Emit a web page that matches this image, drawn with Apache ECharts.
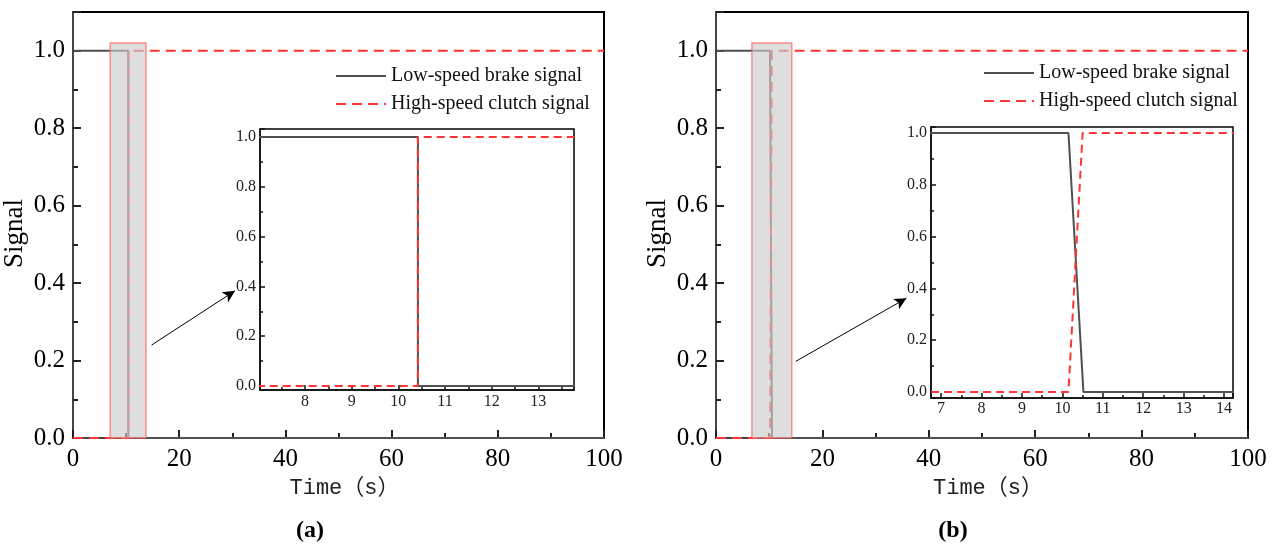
<!DOCTYPE html>
<html>
<head>
<meta charset="utf-8">
<script src="https://cdn.jsdelivr.net/npm/echarts@6/dist/echarts.min.js"></script>
<style>
html,body{margin:0;padding:0;background:#fff;}
#chart{width:1278px;height:547px;}
</style>
</head>
<body>
<div id="chart"></div>
<script>
// ---- data ----
const seriesNames = ['Low-speed brake signal', 'High-speed clutch signal'];
const timeLowA  = [0, 10.42, 10.42, 100];
const sigLowA   = [1, 1, 0, 0];
const timeHighA = [0, 10.42, 10.42, 100];
const sigHighA  = [0, 0, 1, 1];
const timeLowB  = [0, 10.15, 10.52, 100];
const sigLowB   = [1, 1, 0, 0];
const timeHighB = [0, 10.15, 10.50, 100];
const sigHighB  = [0, 0, 1, 1];
const zoomBoxA = [[7.0, -0.02], [13.75, 1.02]];
const zoomBoxB = [[6.75, -0.028], [14.25, 1.02]];
const arrowA = [[14.8, 0.24], [30.5, 0.38]];
const arrowB = [[15.0, 0.198], [35.8, 0.361]];
const mainXRange = [0, 100];
const mainYRange = [0, 1.1];
const insetAX = [7.035, 13.765];
const insetAY = [-0.016, 1.032];
const insetBX = [6.75, 14.22];
const insetBY = [-0.023, 1.023];
const panelLabels = ['a', 'b'];
const xTitle = 'Time（s）';
const yTitle = 'Signal';

const zip = (xs, ys) => xs.map((x, i) => [x, ys[i]]);
const SERIF = "'Liberation Serif','Times New Roman',serif";
const BLACK = '#505050';
const RED = '#ff3434';

function mainX(gi) {
  return {
    type: 'value', gridIndex: gi, min: mainXRange[0], max: mainXRange[1], interval: 20,
    name: xTitle, nameLocation: 'middle', nameGap: 31,
    nameTextStyle: { fontFamily: "'Liberation Mono','Noto Sans CJK SC',monospace", fontSize: 22, color: '#222', padding: [0, 0, 0, 12] },
    axisLine: { show: true, onZero: false, lineStyle: { color: '#444', width: 2 } },
    axisTick: { show: true, inside: true, length: 8, lineStyle: { color: '#222', width: 2 } },
    minorTick: { show: true, splitNumber: 2, length: 5, lineStyle: { color: '#222', width: 2 } },
    splitLine: { show: false },
    axisLabel: { fontFamily: SERIF, fontSize: 25, color: '#000', margin: 9 }
  };
}
function mainY(gi) {
  return {
    type: 'value', gridIndex: gi, min: mainYRange[0], max: mainYRange[1], interval: 0.2,
    name: yTitle, nameLocation: 'middle', nameGap: 45,
    nameTextStyle: { fontFamily: SERIF, fontSize: 27, color: '#000', padding: [0, 17, 0, 0] },
    axisLine: { show: true, onZero: false, lineStyle: { color: '#444', width: 2 } },
    axisTick: { show: true, inside: true, length: 8, lineStyle: { color: '#222', width: 2 } },
    minorTick: { show: true, splitNumber: 2, length: 5, lineStyle: { color: '#222', width: 2 } },
    splitLine: { show: false },
    axisLabel: { fontFamily: SERIF, fontSize: 25, color: '#000', margin: 8, showMaxLabel: false,
      formatter: v => v > 1.05 ? '' : v.toFixed(1) }
  };
}
function insetX(gi, r, margin) {
  return {
    type: 'value', gridIndex: gi, min: r[0], max: r[1],
    axisLine: { show: true, onZero: false, lineStyle: { color: '#111', width: 1.5 } },
    axisTick: { show: true, inside: true, length: 5, lineStyle: { color: '#111', width: 1.5 } },
    minorTick: { show: true, splitNumber: 2, length: 3, lineStyle: { color: '#111', width: 1.5 } },
    splitLine: { show: false },
    axisLabel: { fontFamily: SERIF, fontSize: 16, color: '#222', margin: margin,
      showMinLabel: false, showMaxLabel: false,
      formatter: v => Math.abs(v - Math.round(v)) < 1e-6 ? String(Math.round(v)) : '' }
  };
}
function insetY(gi, r) {
  return {
    type: 'value', gridIndex: gi, min: r[0], max: r[1],
    axisLine: { show: true, onZero: false, lineStyle: { color: '#111', width: 1.5 } },
    axisTick: { show: true, inside: true, length: 5, lineStyle: { color: '#111', width: 1.5 } },
    minorTick: { show: true, splitNumber: 2, length: 3, lineStyle: { color: '#111', width: 1.5 } },
    splitLine: { show: false },
    axisLabel: { fontFamily: SERIF, fontSize: 16, color: '#222', margin: 4,
      showMinLabel: false, showMaxLabel: false,
      formatter: v => (v > -1e-6 && Math.abs(v / 0.2 - Math.round(v / 0.2)) < 1e-6) ? v.toFixed(1) : '' }
  };
}
function lowSeries(xi, xs, ys) {
  return { type: 'line', name: seriesNames[0], xAxisIndex: xi, yAxisIndex: xi, data: zip(xs, ys),
    symbol: 'none', color: BLACK, lineStyle: { color: BLACK, width: 2 }, z: 2, silent: true };
}
function highSeries(xi, xs, ys, dash) {
  return { type: 'line', name: seriesNames[1], xAxisIndex: xi, yAxisIndex: xi, data: zip(xs, ys),
    symbol: 'none', color: RED, lineStyle: { color: RED, width: 2, type: dash }, z: 3, silent: true };
}
function boxSeries(xi, box, arrow) {
  return { type: 'line', name: 'box' + xi, xAxisIndex: xi, yAxisIndex: xi, data: [], clip: false, z: 6, silent: true,
    markArea: { silent: true, z: 6,
      itemStyle: { color: 'rgba(205,205,205,0.65)', borderColor: 'rgba(255,90,90,0.65)', borderWidth: 1.5 },
      label: { show: false },
      data: [[{ coord: box[0] }, { coord: box[1] }]] },
    markLine: { silent: true, symbol: ['none', 'arrow'], symbolSize: [9, 12],
      label: { show: false }, lineStyle: { color: '#000', width: 1, type: 'solid' },
      data: [[{ coord: arrow[0] }, { coord: arrow[1] }]] }
  };
}
function legendAt(left, top) {
  return { left: left, top: top, orient: 'vertical', padding: 0, itemGap: 8, itemWidth: 50, itemHeight: 20,
    data: seriesNames, selectedMode: false,
    itemStyle: { opacity: 0, borderWidth: 0 },
    textStyle: { fontFamily: SERIF, fontSize: 20, color: '#111', lineHeight: 20 } };
}
function panelTitle(x, letter) {
  return { text: '{p|(}{b|' + letter + '}{p|)}', left: x, top: 519, textAlign: 'center', padding: 0,
    textStyle: { rich: { p: { fontFamily: SERIF, fontSize: 24, color: '#000' },
                         b: { fontFamily: SERIF, fontSize: 24, fontWeight: 'bold', color: '#000' } } } };
}

const chart = echarts.init(document.getElementById('chart'), null, { renderer: 'canvas' });
chart.setOption({
  animation: false,
  backgroundColor: '#fff',
  title: [panelTitle(310, panelLabels[0]), panelTitle(953, panelLabels[1])],
  legend: [legendAt(335, 66), legendAt(983, 63)],
  grid: [
    { left: 73, top: 12, width: 531, height: 426, show: true, borderColor: '#000', borderWidth: 2, backgroundColor: 'transparent', containLabel: false },
    { left: 260, top: 129, width: 314, height: 261, show: true, borderColor: '#000', borderWidth: 1.5, backgroundColor: '#fff', containLabel: false },
    { left: 716, top: 12, width: 532, height: 426, show: true, borderColor: '#000', borderWidth: 2, backgroundColor: 'transparent', containLabel: false },
    { left: 931, top: 127, width: 302, height: 271, show: true, borderColor: '#000', borderWidth: 1.5, backgroundColor: '#fff', containLabel: false }
  ],
  xAxis: [mainX(0), insetX(1, insetAX, 4), mainX(2), insetX(3, insetBX, 3)],
  yAxis: [mainY(0), insetY(1, insetAY), mainY(2), insetY(3, insetBY)],
  series: [
    lowSeries(0, timeLowA, sigLowA),
    highSeries(0, timeHighA, sigHighA, [10, 6]),
    lowSeries(1, timeLowA, sigLowA),
    highSeries(1, timeHighA, sigHighA, [8, 5]),
    lowSeries(2, timeLowB, sigLowB),
    highSeries(2, timeHighB, sigHighB, [10, 6]),
    lowSeries(3, timeLowB, sigLowB),
    highSeries(3, timeHighB, sigHighB, [8, 5]),
    boxSeries(0, zoomBoxA, arrowA),
    boxSeries(2, zoomBoxB, arrowB)
  ]
});
</script>
</body>
</html>
